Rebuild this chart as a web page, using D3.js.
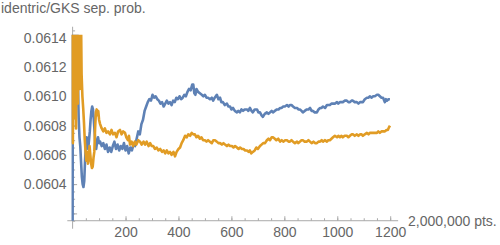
<!DOCTYPE html>
<html>
<head>
<meta charset="utf-8">
<script src="https://cdn.jsdelivr.net/npm/d3@7"></script>
<style>
  body { margin: 0; background: #fff; }
  svg { display: block; }
  text { font-family: "Liberation Sans", Arial, sans-serif; fill: #666; }
</style>
</head>
<body>
<div id="chart"></div>
<script>
// data: [step (x 2,000,000 pts.), separation probability]
var blueSeries = [
  [0, 0.06000], [1, 0.06150], [4, 0.06150], [6, 0.06120], [8, 0.06150], [12, 0.06150],
  [15, 0.06125], [18, 0.06150], [20, 0.06110], [23, 0.06085], [26, 0.06072], [29, 0.06066],
  [32, 0.06055], [35, 0.06045], [38, 0.06040], [41, 0.06038], [44, 0.06042], [47, 0.06056],
  [50, 0.06066], [53, 0.06072], [56, 0.06068], [59, 0.06064], [62, 0.06070], [65, 0.06076],
  [68, 0.06084], [71, 0.06090], [74, 0.06093], [77, 0.06091], [80, 0.06084], [83, 0.06076],
  [86, 0.06068], [89, 0.06064], [92, 0.06068], [96, 0.06072], [100, 0.06068], [104, 0.06069],
  [110, 0.06066], [116, 0.06068], [122, 0.06064], [128, 0.06067], [134, 0.06062], [140, 0.06065],
  [146, 0.06062], [152, 0.06066], [158, 0.06069], [164, 0.06064], [170, 0.06067], [176, 0.06063],
  [182, 0.06066], [188, 0.06064], [194, 0.06068], [200, 0.06063], [206, 0.06066], [212, 0.06061],
  [218, 0.06065], [224, 0.06063], [230, 0.06067], [236, 0.06066], [242, 0.06071], [248, 0.06076],
  [254, 0.06074], [260, 0.06081], [266, 0.06084], [272, 0.06090], [278, 0.06093], [284, 0.06096],
  [290, 0.06098], [296, 0.06097], [302, 0.06101], [308, 0.06099], [314, 0.06100], [320, 0.06098],
  [326, 0.06097], [332, 0.06095], [338, 0.06096], [344, 0.06093], [350, 0.06095], [356, 0.06097],
  [362, 0.06095], [368, 0.06096], [374, 0.06094], [380, 0.06097], [386, 0.06096], [392, 0.06099],
  [398, 0.06098], [404, 0.06100], [410, 0.06098], [416, 0.06099], [422, 0.06101], [428, 0.06100],
  [434, 0.06103], [440, 0.06105], [446, 0.06104], [452, 0.06108], [456, 0.06108], [460, 0.06102],
  [464, 0.06101], [468, 0.06105], [474, 0.06103], [481, 0.06102], [488, 0.06101], [494, 0.06100],
  [500, 0.06101], [506, 0.06099], [512, 0.06099], [519, 0.06098], [526, 0.06099], [531, 0.06097],
  [537, 0.06099], [545, 0.06101], [551, 0.06098], [557, 0.06099], [562, 0.06096], [568, 0.06096],
  [575, 0.06094], [583, 0.06095], [589, 0.06093], [595, 0.06093], [600, 0.06091], [606, 0.06092],
  [613, 0.06090], [621, 0.06089], [626, 0.06090], [632, 0.06089], [638, 0.06091], [644, 0.06090],
  [650, 0.06091], [659, 0.06091], [664, 0.06090], [670, 0.06092], [676, 0.06090], [681, 0.06089],
  [688, 0.06091], [697, 0.06091], [702, 0.06089], [708, 0.06089], [714, 0.06087], [719, 0.06086],
  [726, 0.06088], [734, 0.06089], [740, 0.06088], [746, 0.06089], [752, 0.06090], [757, 0.06089],
  [764, 0.06090], [772, 0.06091], [778, 0.06091], [784, 0.06092], [790, 0.06092], [795, 0.06093],
  [802, 0.06093], [810, 0.06094], [816, 0.06093], [821, 0.06094], [827, 0.06094], [833, 0.06093],
  [840, 0.06092], [848, 0.06092], [853, 0.06091], [859, 0.06091], [865, 0.06090], [870, 0.06089],
  [877, 0.06090], [885, 0.06091], [891, 0.06091], [897, 0.06092], [903, 0.06090], [908, 0.06090],
  [915, 0.06089], [923, 0.06089], [929, 0.06091], [935, 0.06092], [940, 0.06092], [946, 0.06093],
  [954, 0.06092], [961, 0.06094], [966, 0.06094], [972, 0.06094], [978, 0.06095], [984, 0.06095],
  [992, 0.06095], [999, 0.06096], [1004, 0.06095], [1010, 0.06096], [1016, 0.06096], [1021, 0.06096],
  [1028, 0.06097], [1036, 0.06097], [1042, 0.06096], [1048, 0.06096], [1054, 0.06097], [1059, 0.06097],
  [1066, 0.06096], [1074, 0.06096], [1080, 0.06095], [1086, 0.06096], [1092, 0.06096], [1097, 0.06096],
  [1104, 0.06098], [1112, 0.06099], [1118, 0.06099], [1123, 0.06100], [1130, 0.06099], [1135, 0.06100],
  [1142, 0.06100], [1150, 0.06101], [1155, 0.06101], [1161, 0.06100], [1167, 0.06099], [1173, 0.06099],
  [1180, 0.06096], [1184, 0.06098], [1188, 0.06097], [1194, 0.06098], [1199, 0.06098]
];

var orangeSeries = [
  [0, 0.06150], [1, 0.06068], [3, 0.06150], [5, 0.06085], [7, 0.06150], [9, 0.06100],
  [11, 0.06150], [13, 0.06078], [15, 0.06150], [18, 0.06150], [20, 0.06095], [22, 0.06150],
  [25, 0.06150], [27, 0.06105], [29, 0.06150], [32, 0.06150], [34, 0.06115], [37, 0.06100],
  [40, 0.06092], [43, 0.06082], [46, 0.06070], [49, 0.06062], [52, 0.06056], [55, 0.06062],
  [58, 0.06054], [61, 0.06058], [64, 0.06066], [67, 0.06060], [70, 0.06054], [73, 0.06051],
  [76, 0.06052], [79, 0.06058], [82, 0.06062], [85, 0.06078], [88, 0.06089], [91, 0.06091],
  [94, 0.06087], [97, 0.06090], [100, 0.06084], [104, 0.06081], [110, 0.06078], [116, 0.06076],
  [122, 0.06078], [128, 0.06075], [134, 0.06076], [141, 0.06074], [147, 0.06077], [153, 0.06074],
  [160, 0.06075], [166, 0.06072], [172, 0.06076], [179, 0.06077], [185, 0.06074], [191, 0.06076],
  [198, 0.06075], [203, 0.06072], [209, 0.06070], [213, 0.06073], [217, 0.06067], [223, 0.06069],
  [229, 0.06066], [235, 0.06069], [241, 0.06067], [248, 0.06070], [255, 0.06069], [261, 0.06067],
  [268, 0.06069], [274, 0.06067], [280, 0.06069], [287, 0.06066], [293, 0.06068], [299, 0.06066],
  [305, 0.06066], [311, 0.06064], [318, 0.06065], [324, 0.06063], [331, 0.06064], [338, 0.06062],
  [344, 0.06063], [350, 0.06061], [356, 0.06063], [362, 0.06061], [368, 0.06062], [374, 0.06060],
  [381, 0.06062], [387, 0.06059], [393, 0.06062], [400, 0.06064], [406, 0.06065], [412, 0.06068],
  [418, 0.06070], [425, 0.06073], [431, 0.06072], [437, 0.06074], [444, 0.06073], [450, 0.06075],
  [456, 0.06074], [462, 0.06074], [468, 0.06072], [474, 0.06073], [481, 0.06071], [487, 0.06072],
  [493, 0.06070], [500, 0.06070], [506, 0.06069], [512, 0.06070], [519, 0.06069], [526, 0.06068],
  [532, 0.06070], [538, 0.06070], [545, 0.06069], [551, 0.06068], [557, 0.06068], [564, 0.06067],
  [570, 0.06068], [576, 0.06067], [583, 0.06066], [589, 0.06067], [595, 0.06066], [602, 0.06066],
  [608, 0.06065], [614, 0.06066], [621, 0.06065], [627, 0.06064], [633, 0.06065], [640, 0.06064],
  [646, 0.06064], [652, 0.06063], [659, 0.06063], [665, 0.06062], [670, 0.06063], [675, 0.06061],
  [681, 0.06062], [688, 0.06063], [694, 0.06065], [700, 0.06064], [708, 0.06066], [714, 0.06067],
  [720, 0.06068], [727, 0.06068], [734, 0.06070], [740, 0.06071], [746, 0.06070], [752, 0.06072],
  [757, 0.06072], [764, 0.06071], [770, 0.06070], [777, 0.06071], [784, 0.06069], [790, 0.06070],
  [796, 0.06069], [803, 0.06070], [810, 0.06070], [816, 0.06069], [821, 0.06069], [827, 0.06070],
  [833, 0.06069], [840, 0.06068], [848, 0.06069], [853, 0.06068], [859, 0.06069], [865, 0.06070],
  [870, 0.06070], [877, 0.06069], [885, 0.06069], [891, 0.06070], [897, 0.06069], [903, 0.06068],
  [910, 0.06069], [916, 0.06068], [923, 0.06068], [929, 0.06069], [935, 0.06069], [941, 0.06070],
  [946, 0.06069], [953, 0.06070], [961, 0.06069], [966, 0.06070], [972, 0.06070], [978, 0.06071],
  [984, 0.06072], [991, 0.06073], [999, 0.06072], [1004, 0.06073], [1010, 0.06072], [1016, 0.06073],
  [1021, 0.06072], [1028, 0.06073], [1036, 0.06073], [1042, 0.06072], [1048, 0.06073], [1054, 0.06074],
  [1059, 0.06074], [1066, 0.06073], [1074, 0.06074], [1080, 0.06073], [1086, 0.06074], [1092, 0.06074],
  [1097, 0.06073], [1104, 0.06074], [1112, 0.06075], [1118, 0.06074], [1123, 0.06075], [1130, 0.06075],
  [1135, 0.06075], [1142, 0.06075], [1150, 0.06075], [1155, 0.06076], [1161, 0.06075], [1167, 0.06076],
  [1173, 0.06076], [1180, 0.06076], [1186, 0.06077], [1191, 0.06077], [1196, 0.06079], [1199, 0.06080]
];

var xMajorTicks = [200, 400, 600, 800, 1000, 1200];
var yMajorTicks = [0.0602, 0.0604, 0.0606, 0.0608, 0.0610, 0.0612, 0.0614];
var yLabelled = [0.0604, 0.0606, 0.0608, 0.0610, 0.0612, 0.0614];

var width = 500, height = 245;
var axisColor = "#aaaaaa";

var svg = d3.select("#chart").append("svg")
  .attr("width", width)
  .attr("height", height);

// scales
var x = d3.scaleLinear().domain([0, 1200]).range([72.6, 390.2]);
var y = d3.scaleLinear().domain([0.0602, 0.0614]).range([213.4, 37.7]);

var yMin = 0.06015, yMax = 0.06142;   // plot range (data is clipped here)
var axisY = y(yMin);

// clip region for the data
svg.append("defs").append("clipPath").attr("id", "plotclip")
  .append("rect")
  .attr("x", x(-5)).attr("y", y(yMax))
  .attr("width", x(1230) - x(-5))
  .attr("height", y(yMin) - y(yMax));

// x axis: minor ticks then major ticks (pointing up into the plot)
var xMinor = d3.range(50, 1201, 50);
var xAxisG = svg.append("g").attr("transform", "translate(0," + axisY + ")");
xAxisG.append("g")
  .call(d3.axisBottom(x).tickValues(xMinor).tickSize(-2.5).tickFormat(""))
  .call(function(g) { g.select(".domain").remove(); });
xAxisG.append("g")
  .call(d3.axisBottom(x).tickValues(xMajorTicks).tickSize(-4.5).tickPadding(6).tickFormat(d3.format("d")))
  .call(function(g) { g.select(".domain").remove(); });
xAxisG.append("line")
  .attr("x1", x(-20)).attr("x2", x(1230))
  .attr("y1", 0).attr("y2", 0);

// y axis
var yMinor = d3.range(0, 27).map(function(i) { return 0.06015 + i * 0.00005; })
  .filter(function(v) { return v <= 0.06147; });
var yAxisG = svg.append("g").attr("transform", "translate(" + x(0) + ",0)");
yAxisG.append("g")
  .call(d3.axisLeft(y).tickValues(yMinor).tickSize(-2.5).tickFormat(""))
  .call(function(g) { g.select(".domain").remove(); });
yAxisG.append("g")
  .call(d3.axisLeft(y).tickValues(yMajorTicks).tickSize(-4.5).tickPadding(6)
    .tickFormat(function(d) {
      return yLabelled.some(function(v) { return Math.abs(v - d) < 1e-9; }) ? d3.format(".4f")(d) : "";
    }))
  .call(function(g) { g.select(".domain").remove(); });
yAxisG.append("line")
  .attr("x1", 0).attr("x2", 0)
  .attr("y1", y(0.061475)).attr("y2", axisY + 8);

svg.selectAll(".tick line").attr("stroke", axisColor);
svg.selectAll("g > line").attr("stroke", axisColor);
svg.selectAll(".tick text")
  .attr("fill", "#666")
  .style("font-size", "14px")
  .style("font-family", "'Liberation Sans', Arial, sans-serif");

// series
var line = d3.line()
  .x(function(d) { return x(d[0]); })
  .y(function(d) { return y(d[1]); });

var plot = svg.append("g").attr("clip-path", "url(#plotclip)");
plot.append("path")
  .datum(blueSeries)
  .attr("fill", "none")
  .attr("stroke", "#5e81b5")
  .attr("stroke-width", 2.6)
  .attr("stroke-linejoin", "round")
  .attr("d", line);
plot.append("path")
  .datum(orangeSeries)
  .attr("fill", "none")
  .attr("stroke", "#e19c24")
  .attr("stroke-width", 2.6)
  .attr("stroke-linejoin", "round")
  .attr("d", line);

// axis labels
svg.append("text")
  .attr("x", 1).attr("y", 13)
  .style("font-size", "14px")
  .text("identric/GKS sep. prob.");

svg.append("text")
  .attr("x", 408).attr("y", axisY)
  .attr("dy", "0.35em")
  .style("font-size", "14px")
  .text("2,000,000 pts.");
</script>
</body>
</html>
